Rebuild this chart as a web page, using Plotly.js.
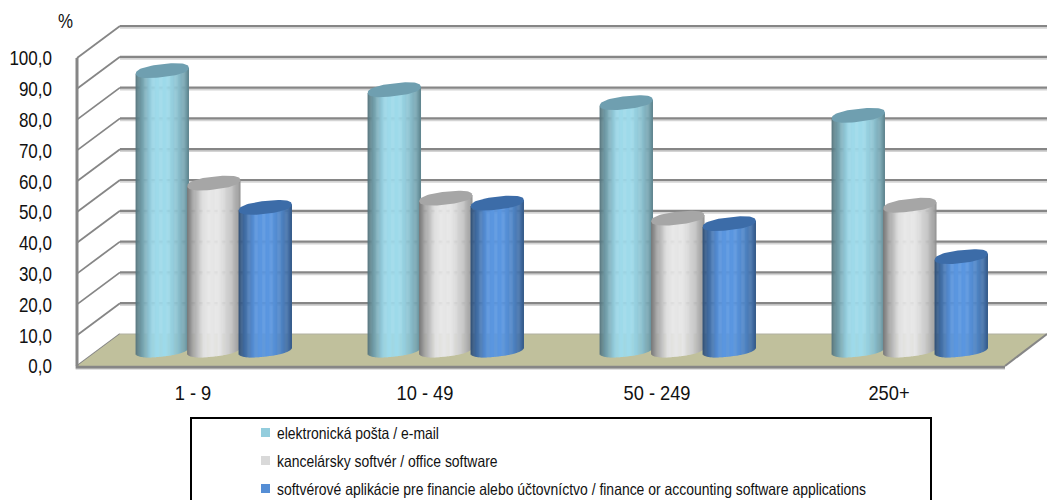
<!DOCTYPE html>
<html>
<head>
<meta charset="utf-8">
<script src="https://cdn.plot.ly/plotly-3.0.1.min.js"></script>
<style>html,body{margin:0;padding:0;background:#fff;overflow:hidden}#chart{width:1047px;height:500px}</style>
</head>
<body>
<div id="chart"></div>
<script>
var categories = ['1 - 9', '10 - 49', '50 - 249', '250+'];
var emailValues = [90.7, 84.5, 80.3, 76.2];
var officeValues = [54.2, 49.3, 42.8, 47.0];
var financeValues = [46.3, 47.7, 41.0, 30.3];
var seriesNames = ['elektronická pošta / e-mail', 'kancelársky softvér / office software', 'softvérové aplikácie pre financie alebo účtovníctvo / finance or accounting software applications'];
var bodyColors = [[158, 218, 234], [230, 230, 230], [90, 150, 224]];
var capColors = [[111, 159, 176], [166, 166, 166], [60, 108, 168]];
var legendColors = ['#93cddd', '#d9d9d9', '#558ed5'];
var yTicks = [0, 10, 20, 30, 40, 50, 60, 70, 80, 90, 100];
var yTickLabels = ['0,0', '10,0', '20,0', '30,0', '40,0', '50,0', '60,0', '70,0', '80,0', '90,0', '100,0'];

var W = 1047, H = 500, ml = 70, mt = 20, mb = 124;
var originX = 77, originY = 366;
var catPx = 232, yPx = 3.08;
var plotW = W - ml, plotH = H - mt - mb;
var xLeft = 0.5 - (originX - ml) / catPx, xMax = xLeft + plotW / catPx;
var yLow = -(H - mb - originY) / yPx, yMax = yLow + plotH / yPx;
var xMin = 0.5;
var depthX = 43 / catPx, depthY = 32 / yPx;
var cylW = 53 / catPx, cylStep = 51.5 / catPx;
var capH = 6.5 / yPx, capTilt = 3 / yPx;

function shade(t) {
  var p = [[0, .52], [.1, .7], [.3, .97], [.4, 1], [.6, 1], [.8, .88], [.95, .72], [1, .6]];
  for (var i = 1; i < p.length; i++) if (t <= p[i][0]) {
    var f = (t - p[i - 1][0]) / (p[i][0] - p[i - 1][0]);
    return p[i - 1][1] + f * (p[i][1] - p[i - 1][1]);
  }
  return .6;
}
function rgb(c, m) { return 'rgb(' + Math.round(c[0] * m) + ',' + Math.round(c[1] * m) + ',' + Math.round(c[2] * m) + ')'; }
function seg(x0, y0, x1, y1, color, width) {
  return { type: 'line', layer: 'below', xref: 'x', yref: 'y', x0: x0, y0: y0, x1: x1, y1: y1, line: { color: color, width: width } };
}
var shapes = [];
yTicks.forEach(function (v) {
  if (v > 0) {
    shapes.push(seg(xMin + depthX, v + depthY - 0.6, xMax, v + depthY - 0.6, '#d4d4d4', 2));
    shapes.push(seg(xMin + depthX, v + depthY, xMax, v + depthY, '#868686', 2.2));
  }
  shapes.push(seg(xMin, v, xMin + depthX, v + depthY, '#868686', 1.8));
});
shapes.push({ type: 'path', layer: 'below', xref: 'x', yref: 'y', fillcolor: '#c0c09c', line: { width: 0 },
  path: 'M' + xMin + ',0 L' + (xMin + depthX) + ',' + depthY + ' L' + xMax + ',' + depthY + ' L' + (xMin + 4) + ',0 Z' });
shapes.push(seg(xMin + depthX, depthY, xMax, depthY, '#b0b0a0', 1));
shapes.push(seg(xMin + 4, 0, xMax, depthY, '#868686', 2));
shapes.push(seg(xMin, 0, xMin, 100, '#868686', 3));
shapes.push(seg(xMin - 0.006, -0.4, xMin + 4, -0.4, '#868686', 3));
shapes.push(seg(xMin - 0.006, -1.1, xMin + 4, -1.1, '#dcdcdc', 1));

var traces = [];
var allValues = [emailValues, officeValues, financeValues];
var base = depthY / 2;
var centerOff = depthX / 2 - 0.7 / catPx;
var strips = 60;
allValues.forEach(function (vals, s) {
  var bx = [], by = [], bb = [], bc = [], bw = [];
  vals.forEach(function (v, c) {
    var cx = c + 1 + centerOff + (s - 1) * cylStep;
    for (var i = 0; i < strips; i++) {
      var t = (i + .5) / strips, u = 2 * t - 1, r = Math.pow(1 - Math.pow(Math.abs(u), 2.4), 1 / 2.4);
      var bottom = base + capTilt * u - capH * r;
      var top = base + v + capTilt * u;
      bx.push(cx + u * cylW / 2);
      bb.push(bottom);
      by.push(top - bottom);
      bc.push(rgb(bodyColors[s], shade(t)));
      bw.push(cylW / strips * 1.5);
    }
  });
  traces.push({ type: 'bar', x: bx, y: by, base: bb, width: bw, marker: { color: bc, line: { width: 0 } }, hoverinfo: 'skip' });
  vals.forEach(function (v, c) {
    var cx = c + 1 + centerOff + (s - 1) * cylStep;
    var xs = [], ys = [];
    for (var a = 0; a <= 72; a++) {
      var th = a / 72 * 2 * Math.PI, cs = Math.cos(th), sn = Math.sin(th);
      var u = Math.sign(cs) * Math.pow(Math.abs(cs), 2 / 2.4), w = Math.sign(sn) * Math.pow(Math.abs(sn), 2 / 2.4);
      xs.push(cx + u * cylW / 2);
      ys.push(base + v + capTilt * u + capH * w);
    }
    traces.push({ type: 'scatter', mode: 'lines', fill: 'toself', fillcolor: rgb(capColors[s], 1), line: { width: 0 }, hoverinfo: 'skip', x: xs, y: ys });
  });
});

function px(x) { return (x - ml) / plotW; }
function py(y) { return (H - mb - y) / plotH; }
var fam = '"Liberation Sans", Arial, sans-serif';
shapes.push({ type: 'rect', xref: 'paper', yref: 'paper', x0: px(191), x1: px(931), y0: py(520), y1: py(418), line: { color: '#000', width: 2 }, fillcolor: '#fff' });
var annotations = [{ xref: 'paper', yref: 'paper', x: px(67), y: py(21), text: '%', showarrow: false, xanchor: 'center', yanchor: 'middle', font: { family: fam, size: 20, color: '#111' } }];
seriesNames.forEach(function (n, i) {
  var yy = 432.5 + i * 28;
  shapes.push({ type: 'rect', xref: 'paper', yref: 'paper', x0: px(261), x1: px(270), y0: py(yy + 4.5), y1: py(yy - 4.5), line: { width: 0 }, fillcolor: legendColors[i] });
  annotations.push({ xref: 'paper', yref: 'paper', x: px(275), y: py(yy), text: n, showarrow: false, xanchor: 'left', yanchor: 'middle', font: { family: fam, size: 16.5, color: '#111' } });
});

var layout = {
  width: W, height: H, margin: { l: ml, r: 0, t: mt, b: mb }, showlegend: false, barmode: 'overlay',
  paper_bgcolor: '#fff', plot_bgcolor: '#fff',
  font: { family: fam, color: '#111' },
  xaxis: { range: [xLeft, xMax], tickmode: 'array', tickvals: categories.map(function (c, i) { return i + 1; }), ticktext: categories,
    showgrid: false, zeroline: false, showline: false, ticks: '', ticklabelstandoff: 2, tickfont: { size: 21 } },
  yaxis: { range: [yLow, yMax], tickmode: 'array', tickvals: yTicks, ticktext: yTickLabels, showgrid: false, zeroline: false, showline: false,
    ticks: '', ticklabelstandoff: 17, ticklabelshift: -1.5, tickfont: { size: 21 } },
  shapes: shapes, annotations: annotations
};
function condense(sel, k, keepLeft) {
  document.querySelectorAll(sel).forEach(function (el) {
    var left = el.getBoundingClientRect().left;
    var len = el.getComputedTextLength();
    el.setAttribute('lengthAdjust', 'spacingAndGlyphs');
    el.setAttribute('textLength', (len * k).toFixed(2));
    if (keepLeft) {
      var dx = left - el.getBoundingClientRect().left;
      var tr = el.getAttribute('transform') || '';
      el.setAttribute('transform', 'translate(' + dx.toFixed(2) + ',0) ' + tr);
    }
  });
}
Plotly.newPlot('chart', traces, layout, { displayModeBar: false, staticPlot: true }).then(function () {
  condense('#chart .ytick text', 0.81, false);
  condense('#chart .xtick text', 0.87, false);
  condense('#chart .annotation-text', 0.845, true);
});
</script>
</body>
</html>
